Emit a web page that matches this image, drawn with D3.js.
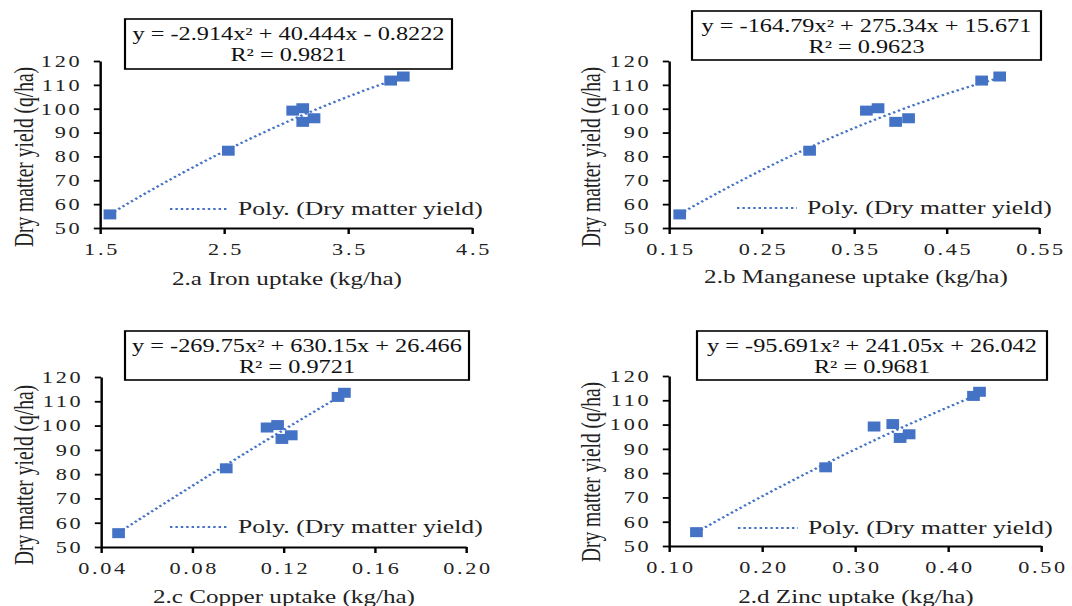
<!DOCTYPE html>
<html>
<head>
<meta charset="utf-8">
<script src="https://cdn.jsdelivr.net/npm/d3@7"></script>
<style>
  body { margin: 0; background: #fff; }
  svg { display: block; }
</style>
</head>
<body>
<div id="chart"></div>
<script>
// dry matter yield (q/ha), same 8 treatments in every panel
var yieldVals = [55.7, 82.4, 99.2, 100.2, 94.5, 96.0, 111.8, 113.5];

// nutrient uptake (kg/ha) for each treatment
var ironX = [1.58, 2.535, 3.054, 3.135, 3.135, 3.226, 3.844, 3.946];
var manganeseX = [0.1616, 0.302, 0.3634, 0.376, 0.395, 0.409, 0.488, 0.5075];
var copperX = [0.0477, 0.0949, 0.1128, 0.1174, 0.1193, 0.1234, 0.1439, 0.1467];
var zincX = [0.1295, 0.2684, 0.3205, 0.3406, 0.3485, 0.3582, 0.4274, 0.4339];

var ironTicks = [1.5, 2.5, 3.5, 4.5];
var manganeseTicks = [0.15, 0.25, 0.35, 0.45, 0.55];
var copperTicks = [0.04, 0.08, 0.12, 0.16, 0.20];
var zincTicks = [0.10, 0.20, 0.30, 0.40, 0.50];
var yTicks = [50, 60, 70, 80, 90, 100, 110, 120];

// polynomial trendline coefficients [a, b, c] for y = a x^2 + b x + c
var ironFit = [-2.914, 40.444, -0.8222];
var manganeseFit = [-164.79, 275.34, 15.671];
var copperFit = [-269.75, 630.15, 26.466];
var zincFit = [-95.691, 241.05, 26.042];

var equations = [
  "y = -2.914x² + 40.444x - 0.8222",
  "y = -164.79x² + 275.34x + 15.671",
  "y = -269.75x² + 630.15x + 26.466",
  "y = -95.691x² + 241.05x + 26.042"
];
var r2Labels = ["R² = 0.9821", "R² = 0.9623", "R² = 0.9721", "R² = 0.9681"];
var xTitles = ["2.a Iron uptake (kg/ha)", "2.b Manganese uptake (kg/ha)",
               "2.c Copper uptake (kg/ha)", "2.d Zinc uptake (kg/ha)"];
var yTitle = "Dry matter yield (q/ha)";
var legendLabel = "Poly. (Dry matter yield)";

var W = 1072, H = 606;
var S = 1.35; // the picture is stretched sideways
var blue = "#4472C4";
var font = "Liberation Serif, Times New Roman, serif";

var svg = d3.select("#chart").append("svg")
  .attr("width", W)
  .attr("height", H)
  .attr("viewBox", "0 0 " + (W / S) + " " + H)
  .attr("preserveAspectRatio", "none");

// layout in screen pixels
var panels = [
  {xs: ironX, ticks: ironTicks, fmt: d3.format(".1f"), fit: ironFit,
   left: 100, right: 472, top: 61, bottom: 228,
   box: [125, 19, 452, 69], leg: [170, 228, 209],
   titleX: 287, titleY: 285, yTitleX: 24, yTitleY: 157},
  {xs: manganeseX, ticks: manganeseTicks, fmt: d3.format(".2f"), fit: manganeseFit,
   left: 669, right: 1039, top: 61, bottom: 228,
   box: [692, 11, 1041, 60], leg: [737, 797, 208],
   titleX: 856, titleY: 283, yTitleX: 591, yTitleY: 157},
  {xs: copperX, ticks: copperTicks, fmt: d3.format(".2f"), fit: copperFit,
   left: 101, right: 466, top: 377, bottom: 547,
   box: [125, 331, 469, 380], leg: [170, 228, 527],
   titleX: 284, titleY: 603, yTitleX: 24, yTitleY: 475},
  {xs: zincX, ticks: zincTicks, fmt: d3.format(".2f"), fit: zincFit,
   left: 669, right: 1041, top: 376, bottom: 546,
   box: [697, 331, 1047, 380], leg: [738, 798, 528],
   titleX: 856, titleY: 603, yTitleX: 591, yTitleY: 472}
];

panels.forEach(function(p, i) {
  var g = svg.append("g");

  var x = d3.scaleLinear()
    .domain([p.ticks[0], p.ticks[p.ticks.length - 1]])
    .range([p.left / S, p.right / S]);
  var y = d3.scaleLinear().domain([50, 120]).range([p.bottom, p.top]);

  // trendline from the fitted polynomial, over the data range
  var xMin = d3.min(p.xs), xMax = d3.max(p.xs);
  var curve = d3.range(0, 61).map(function(k) {
    var xv = xMin + (xMax - xMin) * k / 60;
    return [xv, p.fit[0] * xv * xv + p.fit[1] * xv + p.fit[2]];
  });
  g.append("path")
    .datum(curve)
    .attr("fill", "none")
    .attr("stroke", blue)
    .attr("stroke-width", 2.2)
    .attr("stroke-dasharray", "1.8,2.2")
    .attr("d", d3.line().x(function(d) { return x(d[0]); }).y(function(d) { return y(d[1]); }));

  // points
  g.selectAll("rect.pt")
    .data(p.xs)
    .enter().append("rect")
    .attr("class", "pt")
    .attr("x", function(d) { return x(d) - 4.7; })
    .attr("y", function(d, j) { return y(yieldVals[j]) - 5; })
    .attr("width", 9.4)
    .attr("height", 10)
    .attr("fill", blue);

  // axes
  var xAxis = g.append("g")
    .attr("transform", "translate(0," + p.bottom + ")")
    .call(d3.axisBottom(x).tickValues(p.ticks).tickFormat(p.fmt)
      .tickSize(6).tickSizeOuter(0).tickPadding(9));
  var yAxis = g.append("g")
    .attr("transform", "translate(" + (p.left / S) + ",0)")
    .call(d3.axisLeft(y).tickValues(yTicks)
      .tickSize(4.6).tickSizeOuter(0).tickPadding(8.5));

  [xAxis, yAxis].forEach(function(a) {
    a.attr("font-family", font).attr("font-size", 16.5);
    a.select(".domain").attr("stroke", "#000").attr("stroke-width", 1.8);
    a.selectAll(".tick line").attr("stroke", "#000").attr("stroke-width", 1.8);
    a.selectAll(".tick text").attr("fill", "#222").attr("letter-spacing", 2);
  });
  xAxis.selectAll(".tick text").attr("dx", 1);

  // axis titles
  g.append("text")
    .attr("x", p.titleX / S)
    .attr("y", p.titleY)
    .attr("text-anchor", "middle")
    .attr("font-family", font)
    .attr("font-size", 18.6)
    .attr("fill", "#222")
    .text(xTitles[i]);

  g.append("text")
    .attr("transform", "translate(" + (p.yTitleX / S) + "," + p.yTitleY + ") rotate(-90)")
    .attr("text-anchor", "middle")
    .attr("dominant-baseline", "central")
    .attr("font-family", font)
    .attr("font-size", 19.5)
    .attr("fill", "#222")
    .text(yTitle);

  // legend
  g.append("line")
    .attr("x1", p.leg[0] / S).attr("x2", p.leg[1] / S)
    .attr("y1", p.leg[2]).attr("y2", p.leg[2])
    .attr("stroke", blue)
    .attr("stroke-width", 2.2)
    .attr("stroke-dasharray", "1.8,2.2");
  g.append("text")
    .attr("x", (p.leg[1] + 10) / S)
    .attr("y", p.leg[2] + 6)
    .attr("font-family", font)
    .attr("font-size", 19)
    .attr("fill", "#222")
    .text(legendLabel);

  // equation box
  var bx = p.box;
  g.append("rect")
    .attr("x", bx[0] / S).attr("y", bx[1])
    .attr("width", (bx[2] - bx[0]) / S).attr("height", bx[3] - bx[1])
    .attr("fill", "#fff")
    .attr("stroke", "#000")
    .attr("stroke-width", 1.6);
  var cx = (bx[0] + bx[2]) / 2 / S;
  g.append("text")
    .attr("x", cx).attr("y", bx[1] + 21)
    .attr("text-anchor", "middle")
    .attr("font-family", font)
    .attr("font-size", 18)
    .attr("fill", "#111")
    .text(equations[i]);
  g.append("text")
    .attr("x", cx).attr("y", bx[1] + 42)
    .attr("text-anchor", "middle")
    .attr("font-family", font)
    .attr("font-size", 18)
    .attr("fill", "#111")
    .text(r2Labels[i]);
});
</script>
</body>
</html>
